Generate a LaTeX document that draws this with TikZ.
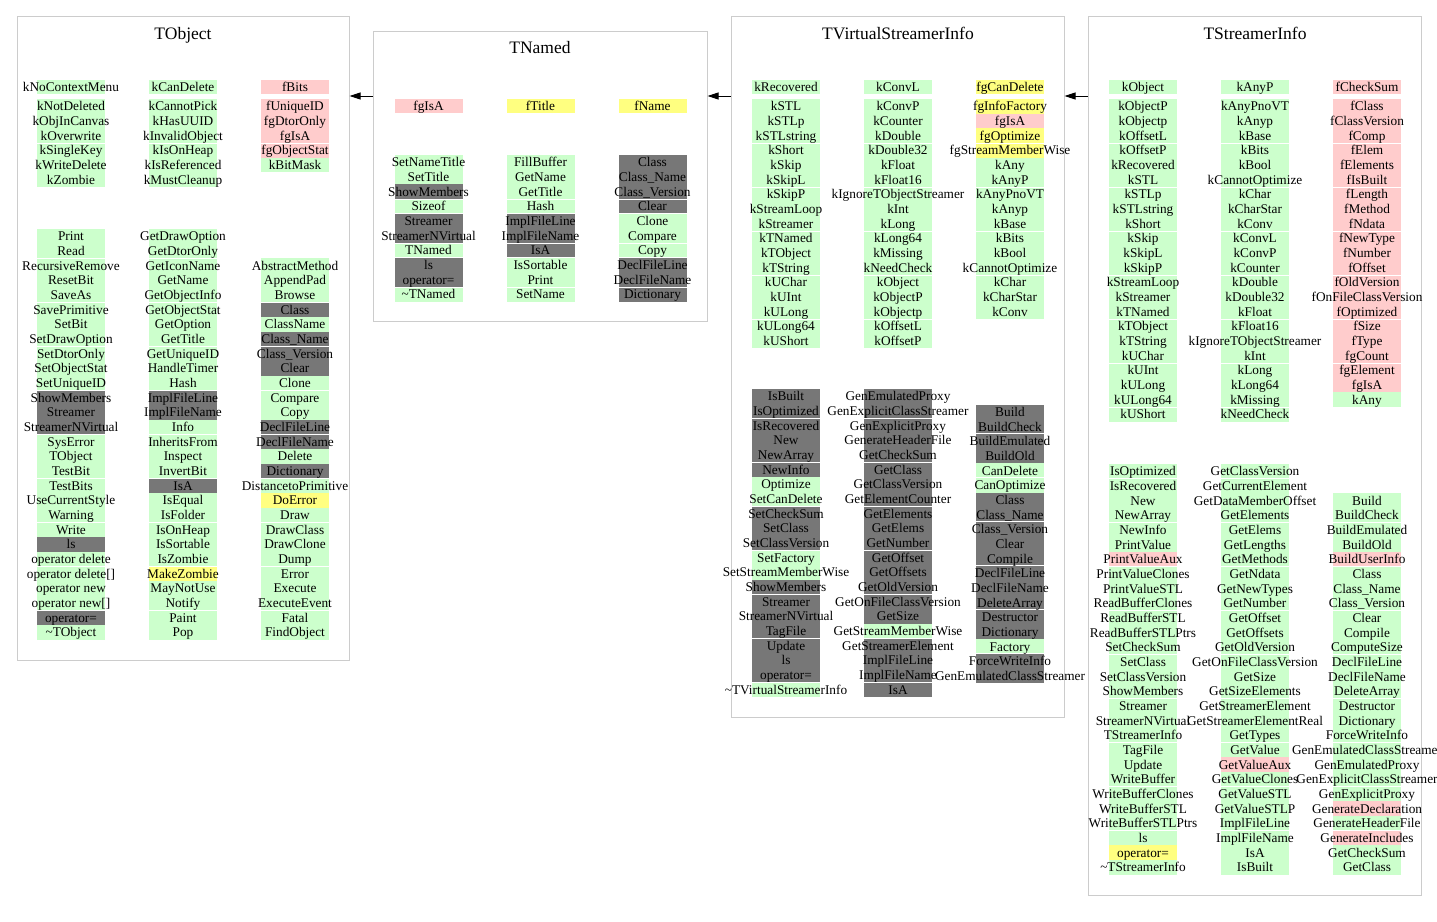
\documentclass[tikz,border=0pt]{standalone}
\usepackage{fontspec}
\setmainfont{Liberation Serif}
\usetikzlibrary{arrows.meta}
\definecolor{cG}{HTML}{CCFFCC}
\definecolor{cP}{HTML}{FFCCCC}
\definecolor{cY}{HTML}{FFFF80}
\definecolor{cD}{HTML}{777777}
\definecolor{cB}{HTML}{CCCCCC}
\newcommand\pp{14.667}
\newcommand\tld{\textasciitilde}
% #1 name prefix, #2 x centre, #3 y top, #4 separator indices, #5 colour/text list
\newcommand\memcol[5]{%
  \foreach \mc/\mt [count=\mi] in {#5} {\fill[\mc] ({#2-34},{#3+(\mi-1)*\pp}) rectangle ({#2+34},{#3+\mi*\pp});}
  \foreach \ms in {#4} {\draw[white,line width=1pt] ({#2-34},{#3+\ms*\pp}) -- ({#2+34},{#3+\ms*\pp});}
  \foreach \mc/\mt [count=\mi] in {#5} {\node[mem] (#1-\mi) at (#2,{#3+(\mi-0.5)*\pp+4.6}) {\mt};}
}
% single cell: #1 name, #2 x centre, #3 y top, #4 colour, #5 text
\newcommand\memone[5]{%
  \fill[#4] ({#2-34},#3) rectangle ({#2+34},{#3+\pp});
  \node[mem] (#1) at (#2,{#3+\pp/2+4.6}) {#5};
}
\tikzset{
  mem/.style={font=\fontsize{13.3}{14}\selectfont, inner sep=0pt, anchor=base, text=black},
  cluster/.style={draw=cB, line width=1pt, fill=none, inner sep=0pt},
  ctitle/.style={font=\fontsize{17.5}{20}\selectfont, inner sep=0pt, anchor=base},
  arr/.style={draw=black, line width=1pt, -{Triangle[length=11pt,width=7pt]}}
}
\begin{document}
\begin{tikzpicture}[x=1pt,y=-1pt]
\useasboundingbox (0,0) rectangle (1437,921);
\fill[white] (0,0) rectangle (1437,921);
\clip (0,0) rectangle (1437,921);

% ---------------- clusters ----------------
\node[cluster, minimum width=332pt, minimum height=644pt] (TObject) at (183,338) {};
\node[cluster, minimum width=334pt, minimum height=290pt] (TNamed) at (540,176) {};
\node[cluster, minimum width=333pt, minimum height=701.5pt] (TVSI) at (897.5,366.75) {};
\node[cluster, minimum width=333.5pt, minimum height=879pt] (TSI) at (1254.75,455.5) {};

\node[ctitle] (tTObject) at (183,39) {TObject};
\node[ctitle] (tTNamed) at (540,53) {TNamed};
\node[ctitle] (tTVSI) at (898,39) {TVirtualStreamerInfo};
\node[ctitle] (tTSI) at (1255,39) {TStreamerInfo};

% ---------------- inheritance arrows ----------------
\coordinate (arow) at (0,96);
\draw[arr] (TNamed.west |- arow) -- (TObject.east |- arow);
\draw[arr] (TVSI.west |- arow) -- (TNamed.east |- arow);
\draw[arr] (TSI.west |- arow) -- (TVSI.east |- arow);

% ================= TObject =================
\memone{oa0}{71}{79.5}{cG}{kNoContextMenu}
\memone{ob0}{183}{79.5}{cG}{kCanDelete}
\memone{oc0}{295}{79.5}{cP}{fBits}
\memcol{oa}{71}{99}{3}{cG/kNotDeleted,cG/kObjInCanvas,cG/kOverwrite,cG/kSingleKey,cG/kWriteDelete,cG/kZombie}
\memcol{ob}{183}{99}{3}{cG/kCannotPick,cG/kHasUUID,cG/kInvalidObject,cG/kIsOnHeap,cG/kIsReferenced,cG/kMustCleanup}
\memcol{oc}{295}{99}{3}{cP/fUniqueID,cP/fgDtorOnly,cP/fgIsA,cP/fgObjectStat,cG/kBitMask}

\memcol{od}{71}{229}{2,5,8,11,14,17,20,23,26}{cG/Print,cG/Read,cG/RecursiveRemove,cG/ResetBit,cG/SaveAs,cG/SavePrimitive,cG/SetBit,cG/SetDrawOption,cG/SetDtorOnly,cG/SetObjectStat,cG/SetUniqueID,cD/ShowMembers,cD/Streamer,cD/StreamerNVirtual,cG/SysError,cG/TObject,cG/TestBit,cG/TestBits,cG/UseCurrentStyle,cG/Warning,cG/Write,cD/ls,cG/operator delete,cG/operator delete[],cG/operator new,cG/operator new[],cD/operator=,cG/\tld TObject}
\memcol{oe}{183}{229}{2,5,8,11,14,17,20,23,26}{cG/GetDrawOption,cG/GetDtorOnly,cG/GetIconName,cG/GetName,cG/GetObjectInfo,cG/GetObjectStat,cG/GetOption,cG/GetTitle,cG/GetUniqueID,cG/HandleTimer,cG/Hash,cD/ImplFileLine,cD/ImplFileName,cG/Info,cG/InheritsFrom,cG/Inspect,cG/InvertBit,cD/IsA,cG/IsEqual,cG/IsFolder,cG/IsOnHeap,cG/IsSortable,cG/IsZombie,cY/MakeZombie,cG/MayNotUse,cG/Notify,cG/Paint,cG/Pop}
\memcol{of}{295}{258.33}{3,6,9,12,15,18,21,24}{cG/AbstractMethod,cG/AppendPad,cG/Browse,cD/Class,cG/ClassName,cD/Class\_Name,cD/Class\_Version,cD/Clear,cG/Clone,cG/Compare,cG/Copy,cD/DeclFileLine,cD/DeclFileName,cG/Delete,cD/Dictionary,cG/DistancetoPrimitive,cY/DoError,cG/Draw,cG/DrawClass,cG/DrawClone,cG/Dump,cG/Error,cG/Execute,cG/ExecuteEvent,cG/Fatal,cG/FindObject}

% ================= TNamed =================
\memone{na0}{428.5}{98.5}{cP}{fgIsA}
\memone{nb0}{540.5}{98.5}{cY}{fTitle}
\memone{nc0}{652.5}{98.5}{cY}{fName}
\memcol{na}{428.5}{155}{3,4,6,7,9}{cG/SetNameTitle,cG/SetTitle,cD/ShowMembers,cG/Sizeof,cD/Streamer,cD/StreamerNVirtual,cG/TNamed,cD/ls,cD/operator=,cG/\tld TNamed}
\memcol{nb}{540.5}{155}{3,4,6,7,9}{cG/FillBuffer,cG/GetName,cG/GetTitle,cG/Hash,cD/ImplFileLine,cD/ImplFileName,cD/IsA,cG/IsSortable,cG/Print,cG/SetName}
\memcol{nc}{652.5}{155}{3,4,6,7,9}{cD/Class,cD/Class\_Name,cD/Class\_Version,cD/Clear,cG/Clone,cG/Compare,cG/Copy,cD/DeclFileLine,cD/DeclFileName,cD/Dictionary}

% ================= TVirtualStreamerInfo =================
\memone{va0}{786}{79.5}{cG}{kRecovered}
\memone{vb0}{898}{79.5}{cG}{kConvL}
\memone{vc0}{1010}{79.5}{cY}{fgCanDelete}
\memcol{va}{786}{99}{3,6,9,12,15}{cG/kSTL,cG/kSTLp,cG/kSTLstring,cG/kShort,cG/kSkip,cG/kSkipL,cG/kSkipP,cG/kStreamLoop,cG/kStreamer,cG/kTNamed,cG/kTObject,cG/kTString,cG/kUChar,cG/kUInt,cG/kULong,cG/kULong64,cG/kUShort}
\memcol{vb}{898}{99}{3,6,9,12,15}{cG/kConvP,cG/kCounter,cG/kDouble,cG/kDouble32,cG/kFloat,cG/kFloat16,cG/kIgnoreTObjectStreamer,cG/kInt,cG/kLong,cG/kLong64,cG/kMissing,cG/kNeedCheck,cG/kObject,cG/kObjectP,cG/kObjectp,cG/kOffsetL,cG/kOffsetP}
\memcol{vc}{1010}{99}{3,6,9,12}{cY/fgInfoFactory,cP/fgIsA,cY/fgOptimize,cY/fgStreamMemberWise,cG/kAny,cG/kAnyP,cG/kAnyPnoVT,cG/kAnyp,cG/kBase,cG/kBits,cG/kBool,cG/kCannotOptimize,cG/kChar,cG/kCharStar,cG/kConv}

\memcol{vd}{786}{389}{2,5,8,11,14,17,20}{cD/IsBuilt,cD/IsOptimized,cD/IsRecovered,cD/New,cD/NewArray,cD/NewInfo,cG/Optimize,cG/SetCanDelete,cD/SetCheckSum,cD/SetClass,cD/SetClassVersion,cG/SetFactory,cG/SetStreamMemberWise,cD/ShowMembers,cD/Streamer,cD/StreamerNVirtual,cD/TagFile,cD/Update,cD/ls,cD/operator=,cG/\tld TVirtualStreamerInfo}
\memcol{ve}{898}{389}{2,5,8,11,14,17,20}{cD/GenEmulatedProxy,cD/GenExplicitClassStreamer,cD/GenExplicitProxy,cD/GenerateHeaderFile,cD/GetCheckSum,cD/GetClass,cD/GetClassVersion,cD/GetElementCounter,cD/GetElements,cD/GetElems,cD/GetNumber,cD/GetOffset,cD/GetOffsets,cD/GetOldVersion,cD/GetOnFileClassVersion,cD/GetSize,cG/GetStreamMemberWise,cD/GetStreamerElement,cD/ImplFileLine,cD/ImplFileName,cD/IsA}
\memcol{vf}{1010}{404.5}{2,5,8,11,14,17}{cD/Build,cD/BuildCheck,cD/BuildEmulated,cD/BuildOld,cG/CanDelete,cG/CanOptimize,cD/Class,cD/Class\_Name,cD/Class\_Version,cD/Clear,cD/Compile,cD/DeclFileLine,cD/DeclFileName,cD/DeleteArray,cD/Destructor,cD/Dictionary,cG/Factory,cD/ForceWriteInfo,cD/GenEmulatedClassStreamer}

% ================= TStreamerInfo =================
\memone{sa0}{1143}{79.5}{cG}{kObject}
\memone{sb0}{1255}{79.5}{cG}{kAnyP}
\memone{sc0}{1367}{79.5}{cP}{fCheckSum}
\memcol{sa}{1143}{99}{3,6,9,12,15,18,21}{cG/kObjectP,cG/kObjectp,cG/kOffsetL,cG/kOffsetP,cG/kRecovered,cG/kSTL,cG/kSTLp,cG/kSTLstring,cG/kShort,cG/kSkip,cG/kSkipL,cG/kSkipP,cG/kStreamLoop,cG/kStreamer,cG/kTNamed,cG/kTObject,cG/kTString,cG/kUChar,cG/kUInt,cG/kULong,cG/kULong64,cG/kUShort}
\memcol{sb}{1255}{99}{3,6,9,12,15,18,21}{cG/kAnyPnoVT,cG/kAnyp,cG/kBase,cG/kBits,cG/kBool,cG/kCannotOptimize,cG/kChar,cG/kCharStar,cG/kConv,cG/kConvL,cG/kConvP,cG/kCounter,cG/kDouble,cG/kDouble32,cG/kFloat,cG/kFloat16,cG/kIgnoreTObjectStreamer,cG/kInt,cG/kLong,cG/kLong64,cG/kMissing,cG/kNeedCheck}
\memcol{sc}{1367}{99}{3,6,9,12,15,18}{cP/fClass,cP/fClassVersion,cP/fComp,cP/fElem,cP/fElements,cP/fIsBuilt,cP/fLength,cP/fMethod,cP/fNdata,cP/fNewType,cP/fNumber,cP/fOffset,cP/fOldVersion,cP/fOnFileClassVersion,cP/fOptimized,cP/fSize,cP/fType,cP/fgCount,cP/fgElement,cP/fgIsA,cG/kAny}

\memcol{sd}{1143}{464}{1,4,7,10,13,16,19,22,25}{cG/IsOptimized,cG/IsRecovered,cG/New,cG/NewArray,cG/NewInfo,cG/PrintValue,cP/PrintValueAux,cG/PrintValueClones,cG/PrintValueSTL,cG/ReadBufferClones,cG/ReadBufferSTL,cG/ReadBufferSTLPtrs,cG/SetCheckSum,cG/SetClass,cG/SetClassVersion,cG/ShowMembers,cG/Streamer,cG/StreamerNVirtual,cG/TStreamerInfo,cG/TagFile,cG/Update,cG/WriteBuffer,cG/WriteBufferClones,cG/WriteBufferSTL,cG/WriteBufferSTLPtrs,cG/ls,cY/operator=,cG/\tld TStreamerInfo}
\memcol{se}{1255}{464}{1,4,7,10,13,16,19,22,25}{cG/GetClassVersion,cG/GetCurrentElement,cG/GetDataMemberOffset,cG/GetElements,cG/GetElems,cG/GetLengths,cG/GetMethods,cG/GetNdata,cG/GetNewTypes,cG/GetNumber,cG/GetOffset,cG/GetOffsets,cG/GetOldVersion,cG/GetOnFileClassVersion,cG/GetSize,cG/GetSizeElements,cG/GetStreamerElement,cG/GetStreamerElementReal,cG/GetTypes,cG/GetValue,cP/GetValueAux,cG/GetValueClones,cG/GetValueSTL,cG/GetValueSTLP,cG/ImplFileLine,cG/ImplFileName,cG/IsA,cG/IsBuilt}
\memcol{sf}{1367}{493.33}{2,5,8,11,14,17,20,23}{cG/Build,cG/BuildCheck,cG/BuildEmulated,cG/BuildOld,cP/BuildUserInfo,cG/Class,cG/Class\_Name,cG/Class\_Version,cG/Clear,cG/Compile,cG/ComputeSize,cG/DeclFileLine,cG/DeclFileName,cG/DeleteArray,cG/Destructor,cG/Dictionary,cG/ForceWriteInfo,cG/GenEmulatedClassStreamer,cG/GenEmulatedProxy,cG/GenExplicitClassStreamer,cG/GenExplicitProxy,cP/GenerateDeclaration,cG/GenerateHeaderFile,cP/GenerateIncludes,cG/GetCheckSum,cG/GetClass}
\end{tikzpicture}
\end{document}
